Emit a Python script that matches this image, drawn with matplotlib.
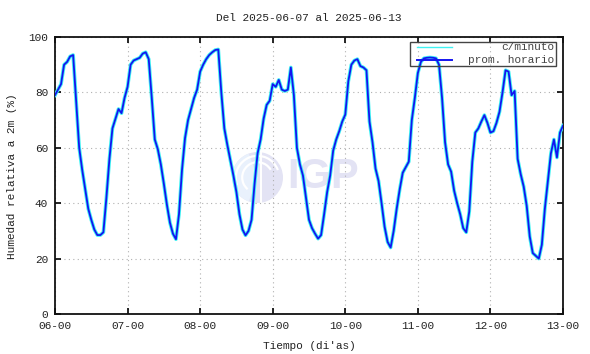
"""
Humedad relativa a 2m -- semana 2025-06-07 al 2025-06-13.
Recreacion estilo gnuplot con matplotlib, guardado en out.png.
"""

import matplotlib
matplotlib.use("Agg")
import matplotlib.pyplot as plt
from matplotlib.patches import Circle, Wedge, Arc, Rectangle
from matplotlib.lines import Line2D
import numpy as np

# -- Colores ----------------------------------------------------------------
AZUL      = "#1414f0"
CIAN      = "#3ff2f2"
GRIS_GRID = "#b0b0b0"
LOGO_LAV  = "#e3e3f4"
LOGO_CEL  = "#e9f1fc"
TXT       = "#222222"

MONO = ["Liberation Mono", "DejaVu Sans Mono"]

# -- Datos (promedio horario) ------------------------------------------------
dias = ["06-00", "07-00", "08-00", "09-00", "10-00", "11-00", "12-00", "13-00"]

dia06 = [79, 81, 83, 90, 91, 93, 93.5, 77, 60, 52, 45, 38,
         34, 30.5, 28.5, 28.5, 29.5, 42, 56, 67, 70.5, 74, 72.5, 78]
dia07 = [82, 90, 91.5, 92, 92.5, 94, 94.5, 92, 78, 63, 59.5, 54,
         47, 39.5, 33, 29, 27, 36, 52, 63.5, 70, 74, 78, 81]
dia08 = [87.5, 90, 92, 93.5, 94.5, 95.3, 95.5, 80, 67, 61, 55.5, 50,
         44, 36, 30.5, 28.4, 30, 34, 47, 58, 63, 70.5, 75.5, 77]
dia09 = [83, 82, 84.5, 81, 80.5, 81, 89, 79, 60, 54, 50, 42,
         34, 31, 29, 27.2, 28.5, 36, 44, 50, 59, 63, 66, 69.5]
dia10 = [72, 84, 90, 91.5, 92, 89.5, 89, 88, 69.5, 62, 52.5, 48,
         40, 31.5, 26, 24, 30, 38, 45, 51, 53, 55, 70, 78]
dia11 = [87, 91, 92.3, 92.5, 92.6, 92.5, 92.3, 90, 78, 62, 54, 51.4,
         44.5, 40, 36, 31, 29.5, 37, 55, 65.5, 67, 69.5, 71.8, 69]
dia12 = [65.5, 66, 69, 73, 80, 88, 87.5, 79, 80.5, 56, 50.5, 46,
         39, 28, 22, 21, 20, 25, 38, 48, 58, 63, 56.5, 65.5]
final = [68]

prom_horario = np.array(dia06 + dia07 + dia08 + dia09 + dia10 + dia11 + dia12 + final)
# la serie por minuto no se puede leer punto a punto: se dibuja como halo
# sobre los mismos valores
c_minuto = prom_horario

t = 6 + np.arange(len(prom_horario)) / 24.0

# -- Figura -------------------------------------------------------------------
W, H = 590, 354
fig = plt.figure(figsize=(W / 100, H / 100), dpi=100)
fig.patch.set_facecolor("white")

# ejes principales (pixeles: x 55-563, y 37-314)
ax = fig.add_axes([55 / W, 1 - 314 / H, (563 - 55) / W, (314 - 37) / H])
ax.set_zorder(2)
ax.patch.set_alpha(0)

# logo de fondo (marca de agua)
lx0, ly0, ld = 232, 152, 51
lax = fig.add_axes([lx0 / W, 1 - (ly0 + ld) / H, ld / W, ld / H])
lax.set_zorder(1)
lax.set_xlim(-1, 1)
lax.set_ylim(-1, 1)
lax.axis("off")
lax.add_patch(Circle((0, 0), 1, facecolor=LOGO_LAV, edgecolor="none"))
lax.add_patch(Wedge((0, 0), 1, 110, 250, facecolor=LOGO_CEL, edgecolor="none"))
for r, a1, a2 in [(0.85, 20, 200), (0.6, 30, 230)]:
    lax.add_patch(Arc((0, 0), 2 * r, 2 * r, theta1=a1, theta2=a2,
                      color="white", lw=1.6))
lax.plot([0.15, 0.15], [-0.95, 0.95], color="white", lw=1.4)
fig.text(323 / W, 1 - 177 / H, "IGP", ha="center", va="center",
         fontsize=30, fontweight="bold", color=LOGO_LAV,
         family=["Liberation Sans", "DejaVu Sans"], zorder=1)

# -- Series ---------------------------------------------------------------------
ax.plot(t, c_minuto, color=CIAN, lw=2.6, solid_joinstyle="round", zorder=3)
ax.plot(t, prom_horario, color=AZUL, lw=1.3, zorder=4)

ax.set_xlim(6, 13)
ax.set_ylim(0, 100)
ax.set_xticks(range(6, 14))
ax.set_xticklabels(dias)
ax.set_yticks(range(0, 101, 20))

ax.grid(True, color=GRIS_GRID, linestyle=(0, (1, 3)), lw=0.8)
ax.set_axisbelow(True)
ax.tick_params(direction="in", length=4, width=1.2, top=True, right=True,
               labelsize=8, colors="black", pad=5)
for lab in ax.get_xticklabels() + ax.get_yticklabels():
    lab.set_family(MONO)
    lab.set_color(TXT)
for sp in ax.spines.values():
    sp.set_linewidth(1.3)
    sp.set_color("#111111")

# -- Textos -----------------------------------------------------------------------
fig.text(309 / W, 1 - 18 / H, "Del 2025-06-07 al 2025-06-13",
         ha="center", va="center", fontsize=8, family=MONO, color=TXT)
fig.text(309 / W, 1 - 346 / H, "Tiempo (di'as)",
         ha="center", va="center", fontsize=8, family=MONO, color=TXT)
fig.text(12 / W, 1 - 176 / H, "Humedad relativa a 2m (%)", rotation=90,
         ha="center", va="center", fontsize=8, family=MONO, color=TXT)

# -- Leyenda (estilo gnuplot: muestra a la izquierda, texto a la derecha) ----
def ax_x(px):
    return (px - 55) / (563 - 55)

def ax_y(py):
    return (314 - py) / (314 - 37)

ax.add_patch(Rectangle((ax_x(410), ax_y(66)), ax_x(556) - ax_x(410),
                       ax_y(42) - ax_y(66), transform=ax.transAxes,
                       facecolor="none", edgecolor="#444444", lw=1.0,
                       zorder=5, clip_on=False))
for py, col, lw, lab in [(47, CIAN, 1.0, "c/minuto"),
                         (60, AZUL, 1.4, "prom. horario")]:
    ax.add_line(Line2D([ax_x(417), ax_x(452)], [ax_y(py), ax_y(py)],
                       transform=ax.transAxes, color=col, lw=lw, zorder=5))
    ax.text(ax_x(554), ax_y(py), lab, transform=ax.transAxes,
            ha="right", va="center", fontsize=8, family=MONO,
            color="#444444", zorder=5)

fig.savefig("out.png", dpi=100, facecolor=fig.get_facecolor())
plt.close(fig)
print("  Saved out.png")
